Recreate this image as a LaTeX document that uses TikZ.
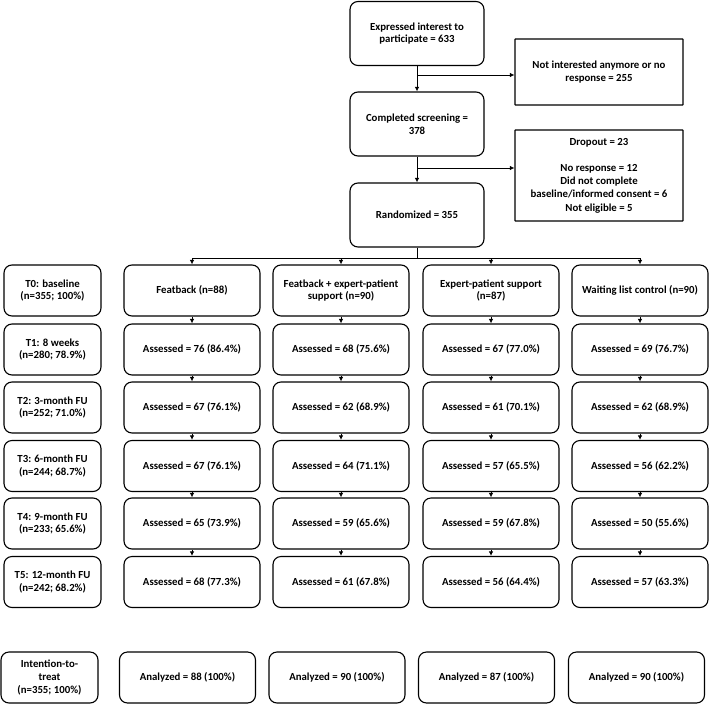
\documentclass[tikz,border=0pt]{standalone}
\usepackage{fontspec}
\setmainfont{Carlito}
\usetikzlibrary{arrows.meta}
\tikzset{
  rbox/.style={draw, rounded corners=8pt, line width=1.1pt, align=center, inner sep=2pt,
    font=\bfseries\fontsize{10.8}{12.8}\selectfont, minimum width=136pt, minimum height=51pt},
  sbox/.style={draw, rounded corners=0.4pt, line width=1.1pt, align=center, inner sep=2pt,
    font=\bfseries\fontsize{10.8}{13.2}\selectfont, minimum width=168pt},
  lbox/.style={rbox, minimum width=97pt},
  tbox/.style={rbox, minimum width=134pt, minimum height=64pt},
  conn/.style={line width=1pt},
  arr/.style={conn, -{Latex[length=4.5pt,width=4.5pt]}}
}
\begin{document}
\begin{tikzpicture}[x=1pt,y=-1pt]
\useasboundingbox (0,0) rectangle (709,704);
% top flow
\node[tbox] (top) at (417,33.5) {Expressed interest to\\participate = 633};
\node[sbox, minimum height=66pt] (notint) at (599,72) {Not interested anymore or no\\response = 255};
\node[tbox] (screen) at (417,124) {Completed screening =\\378};
\node[sbox, minimum height=91pt] (drop) at (599,175.5) {Dropout = 23\\[13pt]No response = 12\\Did not complete\\baseline/informed consent = 6\\Not eligible = 5};
\node[tbox] (rand) at (417,215) {Randomized = 355};
\coordinate (b1) at (417,75);
\coordinate (b2) at (417,168);
\coordinate (hb) at (417,258);
\draw[arr] (top) -- (screen);
\draw[arr] (screen) -- (rand);
\draw[arr] (b1) -- (notint.west |- b1);
\draw[arr] (b2) -- (drop.west |- b2);
% left labels
\node[lbox] (l0) at (52.5,290.5) {T0: baseline\\(n=355; 100\%)};
\node[lbox] (l1) at (52.5,349.5) {T1: 8 weeks\\(n=280; 78.9\%)};
\node[lbox] (l2) at (52.5,407.5) {T2: 3-month FU\\(n=252; 71.0\%)};
\node[lbox] (l3) at (52.5,466) {T3: 6-month FU\\(n=244; 68.7\%)};
\node[lbox] (l4) at (52.5,523.5) {T4: 9-month FU\\(n=233; 65.6\%)};
\node[lbox] (l5) at (52.5,582) {T5: 12-month FU\\(n=242; 68.2\%)};
\node[lbox] (litt) at (49.5,677.5) {Intention-to-\\treat\\(n=355; 100\%)};
% groups
\node[rbox] (r0c1) at (192,290.5) {Featback (n=88)};
\node[rbox] (r0c2) at (341,290.5) {Featback + expert-patient\\support (n=90)};
\node[rbox] (r0c3) at (491,290.5) {Expert-patient support\\(n=87)};
\node[rbox] (r0c4) at (640,290.5) {Waiting list control (n=90)};
% T1
\node[rbox] (r1c1) at (192,349.5) {Assessed = 76 (86.4\%)};
\node[rbox] (r1c2) at (341,349.5) {Assessed = 68 (75.6\%)};
\node[rbox] (r1c3) at (491,349.5) {Assessed = 67 (77.0\%)};
\node[rbox] (r1c4) at (640,349.5) {Assessed = 69 (76.7\%)};
% T2
\node[rbox] (r2c1) at (192,407.5) {Assessed = 67 (76.1\%)};
\node[rbox] (r2c2) at (341,407.5) {Assessed = 62 (68.9\%)};
\node[rbox] (r2c3) at (491,407.5) {Assessed = 61 (70.1\%)};
\node[rbox] (r2c4) at (640,407.5) {Assessed = 62 (68.9\%)};
% T3
\node[rbox] (r3c1) at (192,466) {Assessed = 67 (76.1\%)};
\node[rbox] (r3c2) at (341,466) {Assessed = 64 (71.1\%)};
\node[rbox] (r3c3) at (491,466) {Assessed = 57 (65.5\%)};
\node[rbox] (r3c4) at (640,466) {Assessed = 56 (62.2\%)};
% T4
\node[rbox] (r4c1) at (192,523.5) {Assessed = 65 (73.9\%)};
\node[rbox] (r4c2) at (341,523.5) {Assessed = 59 (65.6\%)};
\node[rbox] (r4c3) at (491,523.5) {Assessed = 59 (67.8\%)};
\node[rbox] (r4c4) at (640,523.5) {Assessed = 50 (55.6\%)};
% T5
\node[rbox] (r5c1) at (192,582) {Assessed = 68 (77.3\%)};
\node[rbox] (r5c2) at (341,582) {Assessed = 61 (67.8\%)};
\node[rbox] (r5c3) at (491,582) {Assessed = 56 (64.4\%)};
\node[rbox] (r5c4) at (640,582) {Assessed = 57 (63.3\%)};
% analyzed
\node[rbox] (an1) at (187.5,677.5) {Analyzed = 88 (100\%)};
\node[rbox] (an2) at (337,677.5) {Analyzed = 90 (100\%)};
\node[rbox] (an3) at (486.5,677.5) {Analyzed = 87 (100\%)};
\node[rbox] (an4) at (636.5,677.5) {Analyzed = 90 (100\%)};
% randomization split
\coordinate (hl) at (r0c1.north |- hb);
\coordinate (hr) at (r0c4.north |- hb);
\draw[conn] (rand) -- (hb);
\draw[conn] (hl) -- (hr);
\foreach \c in {1,2,3,4}{
  \draw[arr] (r0c\c.north |- hb) -- (r0c\c.north);
  \foreach \r [evaluate=\r as \n using int(\r+1)] in {0,1,2,3,4}{
    \draw[arr] (r\r c\c) -- (r\n c\c);
  }
}
\end{tikzpicture}
\end{document}
